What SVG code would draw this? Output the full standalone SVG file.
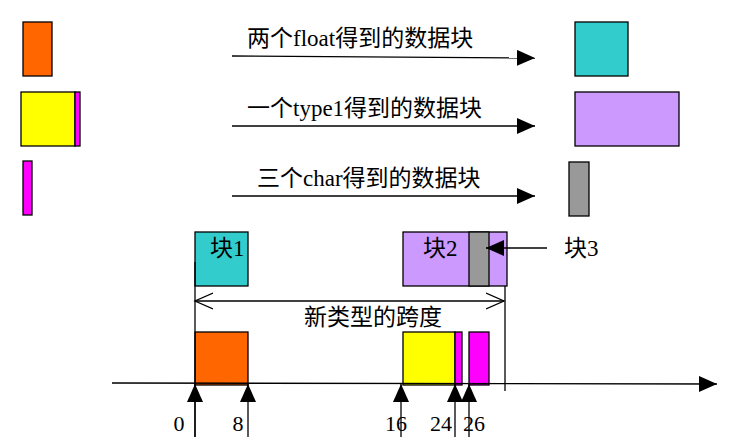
<svg xmlns="http://www.w3.org/2000/svg" width="734" height="448" viewBox="0 0 734 448">
<defs>
<style>
.b{stroke:#000;stroke-width:1.3}
.l{stroke:#000;stroke-width:1.3;fill:none}
.t{font-family:"Liberation Serif","Noto Sans CJK SC",serif;font-size:23px;fill:#000}
.n{font-family:"Liberation Serif",serif;font-size:22px;fill:#000;text-anchor:middle}
.or{fill:#FF6600}.ye{fill:#FFFF00}.mg{fill:#FF00FF}.te{fill:#33CCCC}.pu{fill:#CC99FF}.gr{fill:#999999}
</style>
<marker id="fa" viewBox="0 0 18 16" refX="18" refY="8" markerWidth="18" markerHeight="16" markerUnits="userSpaceOnUse" orient="auto"><path d="M0,0 L18,8 L0,16 Z" fill="#000"/></marker>
<marker id="oa" viewBox="0 0 20 20" refX="18" refY="10" markerWidth="20" markerHeight="20" markerUnits="userSpaceOnUse" orient="auto-start-reverse"><path d="M0,2 L18,10 L0,18" fill="none" stroke="#000" stroke-width="1.3"/></marker>
</defs>
<rect width="734" height="448" fill="#fff"/>
<g id="src-float"><rect class="b or" x="23" y="22" width="29" height="54"/></g>
<g id="src-type1"><rect class="b ye" x="21" y="92" width="54" height="54"/><rect class="b mg" x="75" y="92" width="5" height="54"/></g>
<g id="src-char"><rect class="b mg" x="23" y="161" width="9" height="54"/></g>
<g id="dst-float"><rect class="b te" x="575" y="22" width="53" height="54"/></g>
<g id="dst-type1"><rect class="b pu" x="575" y="92" width="104" height="54"/></g>
<g id="dst-char"><rect class="b gr" x="569" y="162" width="20" height="54"/></g>
<g id="block1"><rect class="b te" x="195" y="232" width="53" height="54"/><text class="t" x="210" y="256">块1</text></g>
<g id="block2"><rect class="b pu" x="403" y="232" width="104" height="54"/><rect class="b gr" x="469" y="232" width="20" height="54"/><text class="t" x="423" y="256">块2</text></g>
<g id="label-block3"><text class="t" x="564" y="256">块3</text></g>
<g id="mem-float"><rect class="b or" x="195" y="332" width="53" height="53"/></g>
<g id="mem-type1"><rect class="b ye" x="403" y="332" width="52" height="53"/><rect class="b mg" x="455" y="332" width="7" height="53"/></g>
<g id="mem-char"><rect class="b mg" x="469" y="332" width="20" height="53"/></g>
<g id="connectors">
<line class="l" x1="232" y1="56" x2="535" y2="58" marker-end="url(#fa)"/>
<line class="l" x1="232" y1="126" x2="535" y2="126" marker-end="url(#fa)"/>
<line class="l" x1="232" y1="196" x2="535" y2="196" marker-end="url(#fa)"/>
<line class="l" x1="547" y1="248" x2="486" y2="248" marker-end="url(#fa)"/>
<line class="l" x1="195" y1="262" x2="195" y2="437"/>
<line class="l" x1="505" y1="286" x2="505" y2="391"/>
<line class="l" x1="195" y1="301" x2="504" y2="301" marker-start="url(#oa)" marker-end="url(#oa)"/>
<line class="l" x1="112" y1="383" x2="717" y2="384" marker-end="url(#fa)"/>
<line class="l" x1="195" y1="437" x2="195" y2="384" marker-end="url(#fa)"/>
<line class="l" x1="248" y1="437" x2="248" y2="384" marker-end="url(#fa)"/>
<line class="l" x1="401" y1="437" x2="401" y2="384" marker-end="url(#fa)"/>
<line class="l" x1="455" y1="437" x2="455" y2="384" marker-end="url(#fa)"/>
<line class="l" x1="469" y1="437" x2="469" y2="384" marker-end="url(#fa)"/>
</g>
<g id="labels">
<text class="t" x="247" y="46">两个float得到的数据块</text>
<text class="t" x="247" y="116">一个type1得到的数据块</text>
<text class="t" x="257" y="186">三个char得到的数据块</text>
<text class="t" x="304" y="325">新类型的跨度</text>
<text class="n" x="179" y="431">0</text>
<text class="n" x="238" y="431">8</text>
<text class="n" x="396" y="431">16</text>
<text class="n" x="441" y="431">24</text>
<text class="n" x="474" y="431">26</text>
</g>
</svg>
